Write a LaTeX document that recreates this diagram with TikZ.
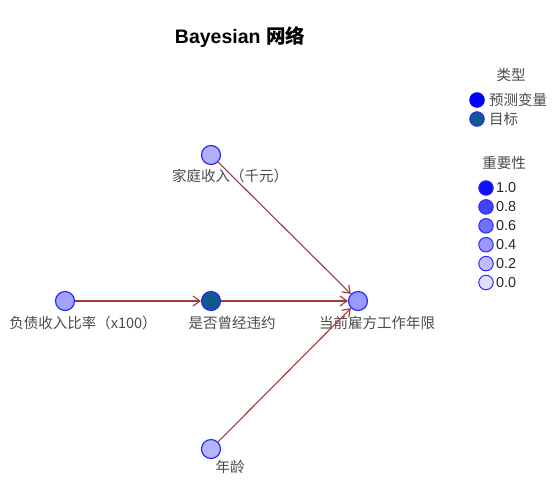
\documentclass[tikz,border=0pt]{standalone}
\usepackage{fontspec}
\setmainfont{Liberation Sans}
\newfontfamily\cjk{Noto Sans CJK SC}
\usetikzlibrary{arrows.meta}
\definecolor{edge-red}{HTML}{A03838}
\definecolor{ring-blue}{HTML}{2A2AFF}
\definecolor{target-teal}{HTML}{0F5A8C}
\definecolor{label-gray}{HTML}{4A4A4A}

\begin{document}
\begin{tikzpicture}[x=1pt, y=-1pt,
        every node/.style={inner sep=0pt, font=\cjk\fontsize{14.5}{16}\selectfont},
        var/.style={circle, draw=ring-blue, line width=1.2pt, minimum size=19pt},
        key/.style={circle, draw=ring-blue, line width=1pt, minimum size=14.5pt},
        txt/.style={text=label-gray},
        num/.style={font=\fontsize{14.4}{16}\selectfont, text=black!85, anchor=west},
        edge/.style={draw=edge-red, line width=1.1pt, -{Straight Barb[length=7pt, width=10pt]}}]
      \useasboundingbox (0,0) rectangle (556,501);
      \node[font=\bfseries\fontsize{19.5}{22}\selectfont] (title) at (240,37)
            {Bayesian {\cjk 网络}};
      % network
      \node[var, fill=blue!31] (income) at (211,155) {};
      \node[txt] (incometxt) at (230,176) {家庭收入（千元）};
      \node[var, fill=blue!36] (debt) at (65,301) {};
      \node[txt] (debttxt) at (83,323) {负债收入比率（x100）};
      \node[var, fill=target-teal] (default) at (211,301) {};
      \node[txt] (defaulttxt) at (232,323) {是否曾经违约};
      \node[var, fill=blue!40] (years) at (358,301) {};
      \node[txt] (yearstxt) at (377,323) {当前雇方工作年限};
      \node[var, fill=blue!29] (age) at (211,449) {};
      \node[txt] (agetxt) at (230,467) {年龄};
      \draw[edge] (income) -- (years);
      \draw[edge] (debt) -- (default);
      \draw[edge] (default) -- (years);
      \draw[edge] (age) -- (years);
      % legend: type
      \node[txt] (typehead) at (511,75) {类型};
      \node[key, fill=blue, draw=blue] (predkey) at (477,100) {};
      \node[txt, anchor=west] (predtxt) at (489,100) {预测变量};
      \node[key, fill=target-teal] (targetkey) at (477,119) {};
      \node[txt, anchor=west] (targettxt) at (489,119) {目标};
      % legend: importance
      \node[txt] (imphead) at (504,163) {重要性};
      \foreach \v/\s [count=\i from 0] in {1.0/94, 0.8/74, 0.6/56, 0.4/40, 0.2/26, 0.0/13} {
        \node[key, fill=blue!\s] (imp\i) at (486,188+18.9*\i) {};
        \node[num] (imptxt\i) at (496,188+18.9*\i) {\v};
      }
    \end{tikzpicture}
\end{document}
